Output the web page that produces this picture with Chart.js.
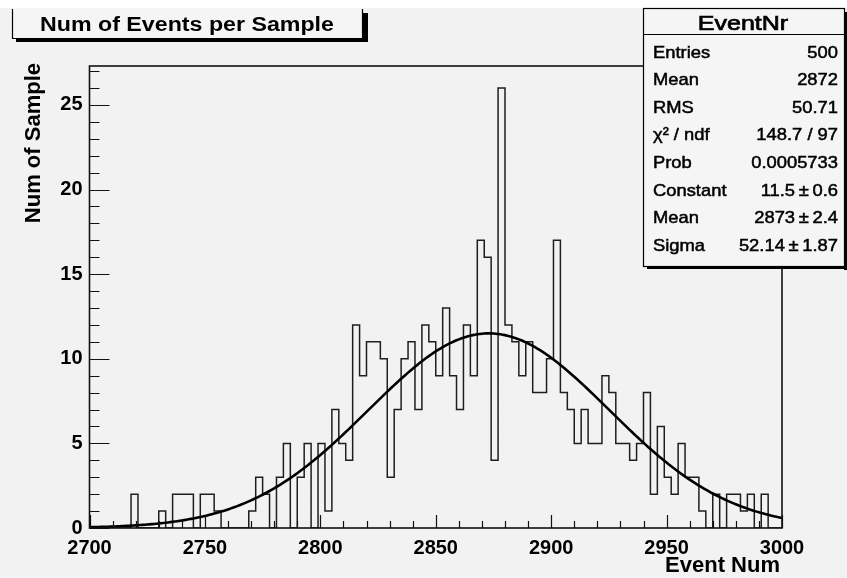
<!DOCTYPE html>
<html>
<head>
<meta charset="utf-8">
<script src="https://cdn.jsdelivr.net/npm/chart.js@4.4.1/dist/chart.umd.min.js"></script>
<style>
  html, body { margin: 0; padding: 0; background: #ffffff; }
  #wrap { width: 847px; height: 578px; }
</style>
</head>
<body>
<div id="wrap"><canvas id="c" width="847" height="578"></canvas></div>
<script>
// Events per sample: 100 bins of width 3 between 2700 and 3000
const xMin = 2700;
const xMax = 3000;
const binWidth = 3;
const binCounts = [
  0, 0, 0, 0, 0, 0, 0, 2, 0, 0,
  0, 1, 0, 2, 2, 2, 0, 2, 2, 1,
  0, 0, 0, 0, 1, 3, 2, 0, 3, 5,
  0, 3, 5, 0, 5, 1, 7, 5, 4, 12,
  9, 11, 11, 10, 3, 7, 10, 11, 7, 12,
  11, 9, 13, 9, 7, 12, 9, 17, 16, 4,
  26, 12, 11, 9, 11, 8, 8, 10, 17, 8,
  7, 5, 7, 5, 5, 9, 8, 5, 5, 4,
  5, 8, 2, 6, 3, 2, 5, 3, 3, 1,
  0, 2, 0, 2, 2, 1, 2, 0, 2, 0
];

// Gaussian fit parameters, as listed in the statistics box
const fitConstant = 11.5;
const fitMean = 2873;
const fitSigma = 52.14;

const xTickValues = [2700, 2750, 2800, 2850, 2900, 2950, 3000];
const yTickValues = [0, 5, 10, 15, 20, 25];
const yMax = 27.3;

const chartTitle = 'Num of Events per Sample';
const xTitle = 'Event Num';
const yTitle = 'Num of Sample';
const statsTitle = 'EventNr';
const statsLabels = ['Entries', 'Mean', 'RMS', 'χ² / ndf', 'Prob', 'Constant', 'Mean', 'Sigma'];
const statsValues = ['500', '2872', '50.71', '148.7 / 97', '0.0005733', '11.5\u2009±\u20090.6', '2873\u2009±\u20092.4', '52.14\u2009±\u20091.87'];

// Histogram outline as a stepped line through the bin low edges
const histPoints = [{ x: xMin, y: 0 }];
binCounts.forEach((c, i) => histPoints.push({ x: xMin + i * binWidth, y: c }));
histPoints.push({ x: xMax, y: binCounts[binCounts.length - 1] });
histPoints.push({ x: xMax, y: 0 });

// Fitted gaussian evaluated across the axis range
const fitPoints = [];
for (let x = xMin; x <= xMax; x += 1) {
  fitPoints.push({ x: x, y: fitConstant * Math.exp(-0.5 * Math.pow((x - fitMean) / fitSigma, 2)) });
}

const FONT = "'Liberation Sans', Arial, Helvetica, sans-serif";

// Text drawn with a horizontal stretch; an optional thin outline makes it a little heavier
function stretchText(ctx, text, x, y, sx, align, outline) {
  ctx.save();
  ctx.translate(x, y);
  ctx.scale(sx, 1);
  ctx.textAlign = align;
  ctx.fillText(text, 0, 0);
  if (outline) {
    ctx.lineWidth = outline;
    ctx.strokeStyle = ctx.fillStyle;
    ctx.strokeText(text, 0, 0);
  }
  ctx.restore();
}

const backgroundPlugin = {
  id: 'canvasBackground',
  beforeDraw(chart) {
    const ctx = chart.ctx;
    ctx.save();
    ctx.fillStyle = '#ffffff';
    ctx.fillRect(0, 0, chart.width, chart.height);
    ctx.fillStyle = '#f2f2f2';
    ctx.fillRect(0, 8, chart.width, chart.height - 8);
    ctx.restore();
  }
};

const framePlugin = {
  id: 'frameAndTicks',
  afterDatasetsDraw(chart) {
    const ctx = chart.ctx;
    const a = chart.chartArea;
    const xs = chart.scales.x;
    const ys = chart.scales.y;
    ctx.save();
    ctx.strokeStyle = '#111111';
    ctx.lineWidth = 1.2;
    ctx.beginPath();
    // y ticks: minor every 1, major every 5, pointing into the frame
    for (let v = 0; v <= Math.floor(yMax); v += 1) {
      const py = Math.round(ys.getPixelForValue(v)) + 0.5;
      const len = (v % 5 === 0) ? 20 : 10;
      ctx.moveTo(a.left, py);
      ctx.lineTo(a.left + len, py);
    }
    // x ticks: minor every 10, major every 50
    for (let v = xMin; v <= xMax; v += 10) {
      const px = Math.round(xs.getPixelForValue(v)) + 0.5;
      const len = (v % 50 === 0) ? 13 : 7;
      ctx.moveTo(px, a.bottom);
      ctx.lineTo(px, a.bottom - len);
    }
    ctx.stroke();
    ctx.lineWidth = 1.6;
    ctx.strokeRect(a.left, a.top, a.right - a.left, a.bottom - a.top);
    ctx.restore();
  },
  afterDraw(chart) {
    const ctx = chart.ctx;
    ctx.save();
    ctx.fillStyle = '#000000';
    ctx.textBaseline = 'middle';

    // axis titles
    ctx.font = 'bold 22px ' + FONT;
    ctx.textAlign = 'right';
    ctx.fillText(xTitle, 780, 566);
    ctx.save();
    ctx.translate(34, 63);
    ctx.rotate(-Math.PI / 2);
    ctx.textAlign = 'right';
    ctx.fillText(yTitle, 0, 0);
    ctx.restore();

    // title box with drop shadow
    ctx.fillStyle = '#f5f5f5';
    ctx.fillRect(12, 8, 350, 30);
    ctx.fillStyle = '#000000';
    ctx.fillRect(363, 13, 5, 29);
    ctx.fillRect(16, 39, 352, 3);
    ctx.strokeStyle = '#000000';
    ctx.lineWidth = 1.2;
    ctx.beginPath();
    ctx.moveTo(12.5, 9);
    ctx.lineTo(12.5, 38.5);
    ctx.lineTo(362.5, 38.5);
    ctx.lineTo(362.5, 9);
    ctx.stroke();
    ctx.font = 'bold 20px ' + FONT;
    ctx.textBaseline = 'alphabetic';
    stretchText(ctx, chartTitle, 187, 31, 1.16, 'center', 0);

    // statistics box
    const bx = 643, by = 8, bw = 201, bh = 258;
    ctx.fillStyle = '#000000';
    ctx.fillRect(bx + 4, by + bh, bw, 3);
    ctx.fillRect(bx + bw, by + 4, 3, bh);
    ctx.fillStyle = '#f5f5f5';
    ctx.fillRect(bx, by, bw, bh);
    ctx.strokeStyle = '#000000';
    ctx.lineWidth = 1.2;
    ctx.strokeRect(bx + 0.5, by + 0.5, bw, bh);
    ctx.beginPath();
    ctx.moveTo(bx, 34.5);
    ctx.lineTo(bx + bw, 34.5);
    ctx.stroke();

    ctx.fillStyle = '#000000';
    ctx.textBaseline = 'alphabetic';
    ctx.font = '20px ' + FONT;
    stretchText(ctx, statsTitle, 743, 30, 1.25, 'center', 0.7);

    ctx.textBaseline = 'middle';
    ctx.font = '17px ' + FONT;
    for (let i = 0; i < statsLabels.length; i++) {
      const y = 53 + i * 27.6;
      stretchText(ctx, statsLabels[i], 653, y, 1.08, 'left', 0.5);
      stretchText(ctx, statsValues[i], 838, y, 1.08, 'right', 0.5);
    }
    ctx.restore();
  }
};

const tickFont = { family: FONT, size: 20, weight: 'bold' };

new Chart(document.getElementById('c').getContext('2d'), {
  type: 'line',
  data: {
    datasets: [
      {
        label: 'EventNr',
        data: histPoints,
        stepped: 'after',
        borderColor: '#1e1e1e',
        borderWidth: 1.5,
        borderJoinStyle: 'miter',
        pointRadius: 0,
        fill: false,
        order: 2
      },
      {
        label: 'gaus',
        data: fitPoints,
        borderColor: '#000000',
        borderWidth: 2.6,
        pointRadius: 0,
        tension: 0,
        fill: false,
        order: 1
      }
    ]
  },
  options: {
    responsive: false,
    animation: false,
    devicePixelRatio: 1,
    layout: { padding: { top: 66, right: 65, left: 0, bottom: 0 } },
    plugins: {
      legend: { display: false },
      tooltip: { enabled: false },
      title: { display: false }
    },
    scales: {
      x: {
        type: 'linear',
        min: xMin,
        max: xMax,
        grid: { display: false, drawTicks: false },
        border: { display: false },
        ticks: {
          font: tickFont,
          color: '#000000',
          padding: 8,
          maxRotation: 0,
          autoSkip: false,
          callback: v => String(v)
        },
        afterBuildTicks: s => { s.ticks = xTickValues.map(v => ({ value: v })); },
        afterFit: s => { s.height = 50; }
      },
      y: {
        type: 'linear',
        min: 0,
        max: yMax,
        grid: { display: false, drawTicks: false },
        border: { display: false },
        ticks: {
          font: tickFont,
          color: '#000000',
          padding: 7,
          autoSkip: false,
          callback: v => String(v)
        },
        afterBuildTicks: s => { s.ticks = yTickValues.map(v => ({ value: v })); },
        afterFit: s => { s.width = 89.5; }
      }
    }
  },
  plugins: [backgroundPlugin, framePlugin]
});
</script>
</body>
</html>
